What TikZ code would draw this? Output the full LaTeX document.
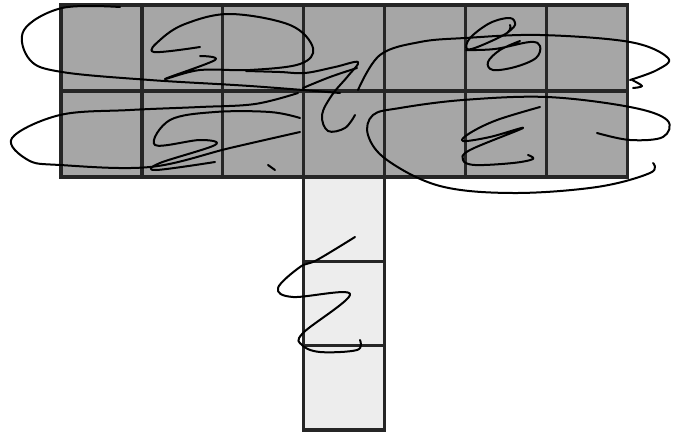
\documentclass[tikz,border=0pt]{standalone}
\usepackage{tikz}
\usetikzlibrary{positioning}

\begin{document}
\begin{tikzpicture}[
  x=1pt, y=-1pt,
  cell/.style={draw=black!85, line width=3.2pt, inner sep=0pt, outer sep=0pt,
               minimum width=80.9pt, minimum height=86pt},
  topcell/.style={cell, fill=black!35},
  stemcell/.style={cell, fill=black!7, minimum width=81pt, minimum height=84.3pt},
  scrib/.style={draw=black, line width=2pt, line cap=round, line join=round}]

\useasboundingbox (0,0) rectangle (677,434);

% two rows of seven
\foreach \r/\y in {1/48,2/134}
  \foreach \c in {1,...,7}
    \node[topcell] (t-\r-\c) at ({61+80.9*(\c-0.5)},\y) {};

% the stem under column 4
\foreach \i/\y in {1/219.2,2/303.5,3/387.8}
  \node[stemcell] (s-\i) at (t-2-4.center |- 0,\y) {};

% scribbles
\draw[scrib] plot[smooth, tension=0.6] coordinates
  {(120,7) (62,8) (24,30) (30,60) (62,72) (150,80) (250,86) (340,93)};
\draw[scrib] plot[smooth, tension=0.6] coordinates
  {(200,47) (154,52) (160,40) (185,24) (230,14) (290,25) (313,48) (300,64)
   (250,70) (200,70) (165,79) (215,60) (200,56)};
\draw[scrib] plot[smooth, tension=0.6] coordinates
  {(246,71) (280,72) (305,73) (335,67) (358,62) (348,76) (332,95) (322,115)
   (328,131) (345,128) (355,115)};
\draw[scrib] plot[smooth, tension=0.6] coordinates
  {(303,88) (330,77) (357,68)};
\draw[scrib] plot[smooth, tension=0.6] coordinates
  {(298,93) (255,104) (200,107) (130,110) (60,115) (12,138) (28,160) (60,165)
   (150,167) (230,148) (300,132)};
\draw[scrib] plot[smooth, tension=0.6] coordinates
  {(300,118) (270,112) (215,112) (170,120) (155,145) (200,140) (215,145)
   (160,163) (156,170) (215,162)};
\draw[scrib] plot[smooth, tension=0.6] coordinates
  {(275,170) (268,165)};
\draw[scrib] plot[smooth, tension=0.6] coordinates
  {(358,90) (380,55) (420,42) (465,38) (540,35) (630,42) (668,58) (657,70)
   (630,80)};
\draw[scrib] plot[smooth, tension=0.6] coordinates
  {(632,80) (642,86) (633,88)};
\draw[scrib] plot[smooth, tension=0.6] coordinates
  {(510,25) (507,33) (480,46) (467,49) (470,38) (490,23) (510,18) (515,25)
   (507,33)};
\draw[scrib] plot[smooth, tension=0.6] coordinates
  {(466,50) (495,49) (530,42) (540,46) (536,58) (515,67) (493,70) (488,62)
   (500,50) (520,41)};
\draw[scrib] plot[smooth, tension=0.6] coordinates
  {(597,133) (630,140) (663,137) (667,120) (630,107) (547,97) (463,100)
   (400,108) (373,115) (368,135) (387,160) (440,186) (513,193) (597,187)
   (650,173) (653,163)};
\draw[scrib] plot[smooth, tension=0.6] coordinates
  {(540,107) (497,120) (470,133) (463,141) (490,137) (523,128) (470,150)
   (463,160) (475,165) (513,163) (533,159) (528,155)};
\draw[scrib] plot[smooth, tension=0.6] coordinates
  {(355,237) (317,260) (300,267) (278,288) (293,297) (350,294) (303,333)
   (302,345) (320,352) (357,350) (360,340)};

\end{tikzpicture}
\end{document}
